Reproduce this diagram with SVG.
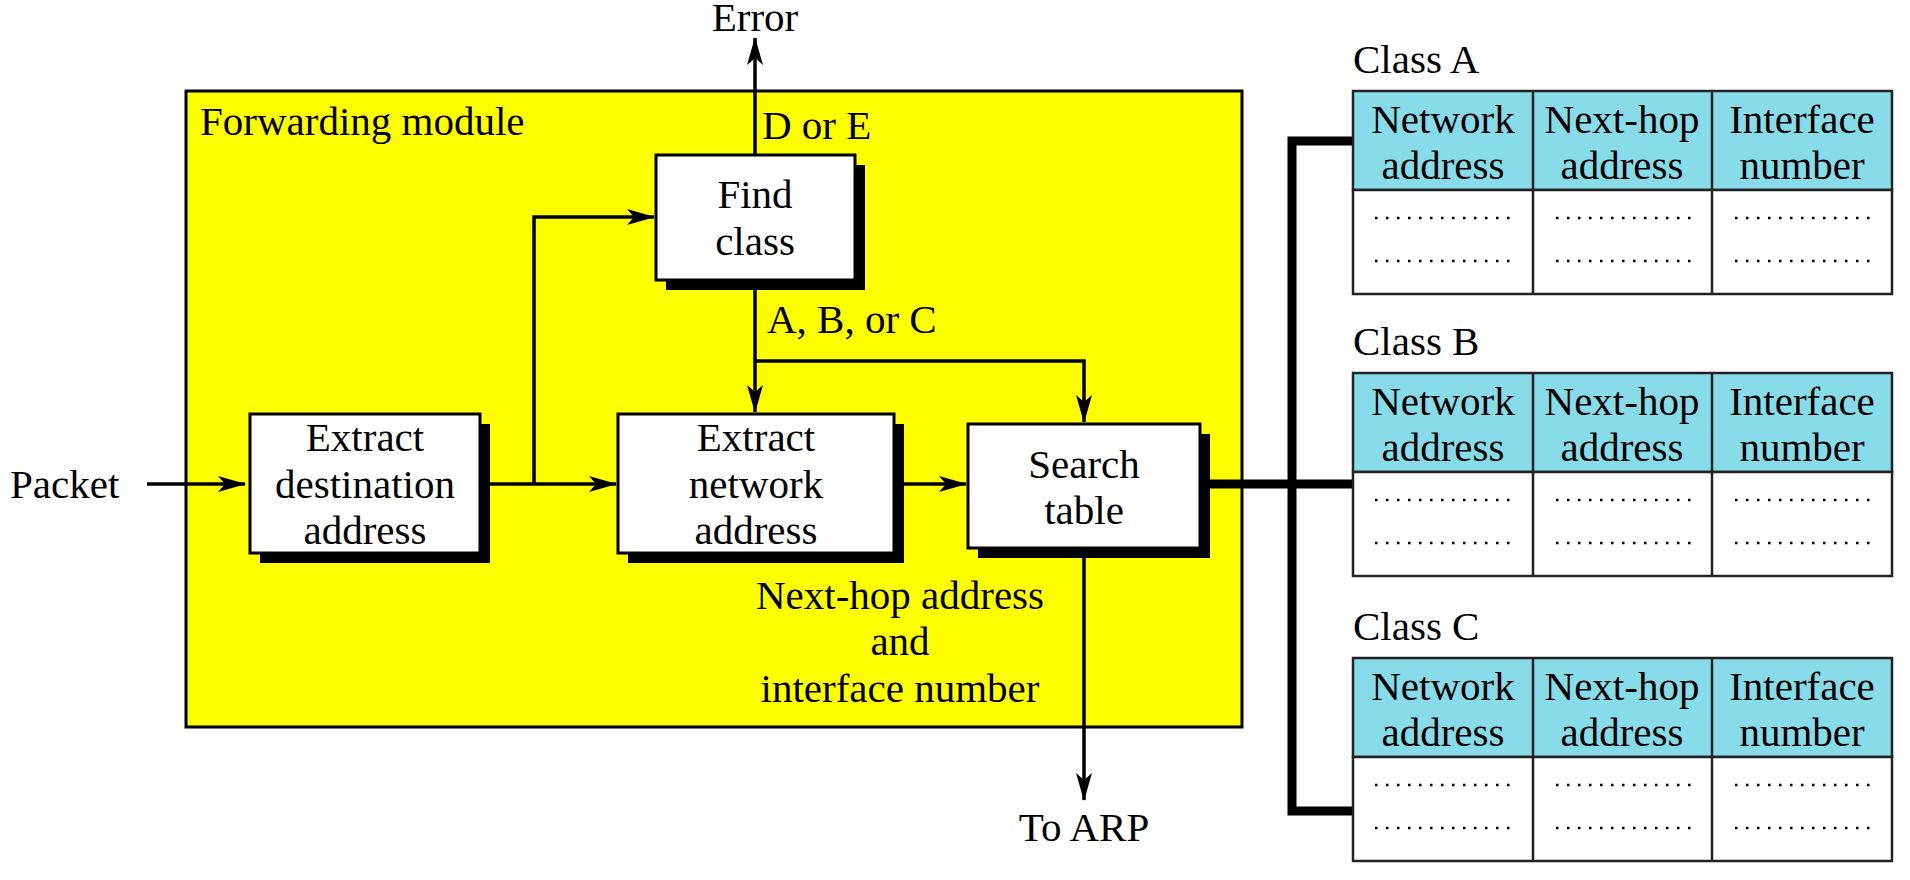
<svg xmlns="http://www.w3.org/2000/svg" width="1910" height="880" viewBox="0 0 1910 880">
<style>
text{font-family:"Liberation Serif","Times New Roman",serif;font-size:41px;fill:#000}
.c{text-anchor:middle}
.box{fill:#fff;stroke:#000;stroke-width:3}
.sh{fill:#000}
.ln{fill:none;stroke:#000;stroke-width:3.5}
.th{fill:none;stroke:#000;stroke-width:9}
.hd{fill:#88dbe9;stroke:#222;stroke-width:2.5}
.bd{fill:#fff;stroke:#222;stroke-width:2.5}
.dot{fill:none;stroke:#000;stroke-width:2.5;stroke-dasharray:2.5 8.5}
</style>
<defs>
<marker id="ar" markerWidth="28" markerHeight="16" refX="27" refY="8" orient="auto" markerUnits="userSpaceOnUse">
<path d="M0,0 L28,8 L0,16 L7,8 Z" fill="#000"/>
</marker>
</defs>
<rect x="186" y="91" width="1056" height="636" fill="#ffff00" stroke="#000" stroke-width="3"/>
<text x="200" y="135">Forwarding module</text>
<g id="connectors">
<path class="ln" d="M147,484 L245,484" marker-end="url(#ar)"/>
<path class="ln" d="M480,484 L616,484" marker-end="url(#ar)"/>
<path class="ln" d="M534,484 L534,217 L654,217" marker-end="url(#ar)"/>
<path class="ln" d="M894,484 L966,484" marker-end="url(#ar)"/>
<path class="ln" d="M755,155 L755,38" marker-end="url(#ar)"/>
<path class="ln" d="M755,280 L755,412" marker-end="url(#ar)"/>
<path class="ln" d="M755,361 L1084,361 L1084,422" marker-end="url(#ar)"/>
<path class="ln" d="M1084,548 L1084,800" marker-end="url(#ar)"/>
<path class="th" d="M1200,484 L1353,484 M1292,484 L1292,141 L1353,141 M1292,484 L1292,811 L1353,811"/>
</g>
<text x="762" y="139">D or E</text>
<text x="767" y="333">A, B, or C</text>
<text class="c" x="755" y="31">Error</text>
<text x="10" y="498">Packet</text>
<text class="c" x="1084" y="841">To ARP</text>
<text class="c" x="900" y="609">Next-hop address</text>
<text class="c" x="900" y="655">and</text>
<text class="c" x="900" y="702">interface number</text>
<g id="find-class">
<rect class="sh" x="666" y="165" width="199" height="125"/>
<rect class="box" x="656" y="155" width="199" height="125"/>
<text class="c" x="755" y="208">Find</text>
<text class="c" x="755" y="255">class</text>
</g>
<g id="extract-dest">
<rect class="sh" x="260" y="424" width="230" height="139"/>
<rect class="box" x="250" y="414" width="230" height="139"/>
<text class="c" x="365" y="451">Extract</text>
<text class="c" x="365" y="498">destination</text>
<text class="c" x="365" y="544">address</text>
</g>
<g id="extract-net">
<rect class="sh" x="628" y="424" width="276" height="139"/>
<rect class="box" x="618" y="414" width="276" height="139"/>
<text class="c" x="756" y="451">Extract</text>
<text class="c" x="756" y="498">network</text>
<text class="c" x="756" y="544">address</text>
</g>
<g id="search-table">
<rect class="sh" x="978" y="434" width="232" height="124"/>
<rect class="box" x="968" y="424" width="232" height="124"/>
<text class="c" x="1084" y="478">Search</text>
<text class="c" x="1084" y="524">table</text>
</g>
<g id="class-a" transform="translate(0,91)">
<text x="1353" y="-18">Class A</text>
<rect class="hd" x="1353" y="0" width="539" height="99"/>
<rect class="bd" x="1353" y="99" width="539" height="104"/>
<path class="hd" d="M1533,0 V203 M1712,0 V203"/>
<text class="c" x="1443" y="42">Network</text><text class="c" x="1443" y="88">address</text>
<text class="c" x="1622" y="42">Next-hop</text><text class="c" x="1622" y="88">address</text>
<text class="c" x="1802" y="42">Interface</text><text class="c" x="1802" y="88">number</text>
<path class="dot" d="M1375,127 H1515 M1556,127 H1696 M1735,127 H1875 M1375,170 H1515 M1556,170 H1696 M1735,170 H1875"/>
</g>
<g id="class-b" transform="translate(0,373)">
<text x="1353" y="-18">Class B</text>
<rect class="hd" x="1353" y="0" width="539" height="99"/>
<rect class="bd" x="1353" y="99" width="539" height="104"/>
<path class="hd" d="M1533,0 V203 M1712,0 V203"/>
<text class="c" x="1443" y="42">Network</text><text class="c" x="1443" y="88">address</text>
<text class="c" x="1622" y="42">Next-hop</text><text class="c" x="1622" y="88">address</text>
<text class="c" x="1802" y="42">Interface</text><text class="c" x="1802" y="88">number</text>
<path class="dot" d="M1375,127 H1515 M1556,127 H1696 M1735,127 H1875 M1375,170 H1515 M1556,170 H1696 M1735,170 H1875"/>
</g>
<g id="class-c" transform="translate(0,658)">
<text x="1353" y="-18">Class C</text>
<rect class="hd" x="1353" y="0" width="539" height="99"/>
<rect class="bd" x="1353" y="99" width="539" height="104"/>
<path class="hd" d="M1533,0 V203 M1712,0 V203"/>
<text class="c" x="1443" y="42">Network</text><text class="c" x="1443" y="88">address</text>
<text class="c" x="1622" y="42">Next-hop</text><text class="c" x="1622" y="88">address</text>
<text class="c" x="1802" y="42">Interface</text><text class="c" x="1802" y="88">number</text>
<path class="dot" d="M1375,127 H1515 M1556,127 H1696 M1735,127 H1875 M1375,170 H1515 M1556,170 H1696 M1735,170 H1875"/>
</g>
</svg>
